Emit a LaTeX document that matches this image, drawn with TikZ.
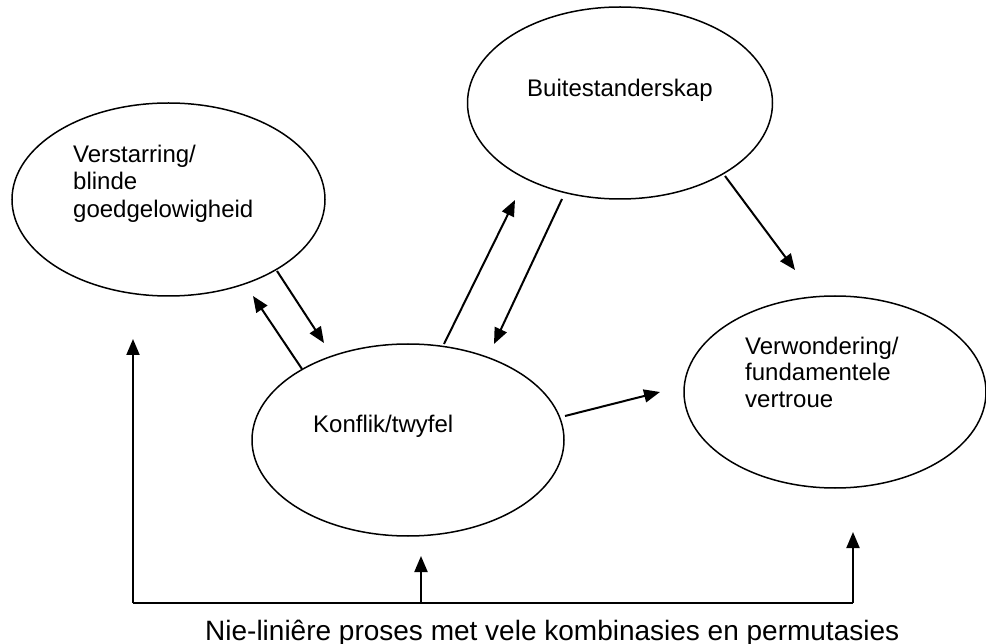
\documentclass[tikz,border=0pt]{standalone}
\usepackage{fontspec}
\setmainfont{Liberation Sans}
\usetikzlibrary{shapes.geometric,arrows.meta}
\begin{document}
\begin{tikzpicture}[x=1pt,y=-1pt,
  bubble/.style={draw,ellipse,line width=1.5pt,inner sep=0pt,minimum width=310pt,minimum height=192pt},
  lbl/.style={anchor=base west,align=left,inner sep=0pt,font=\fontsize{24}{27.6}\selectfont},
  arr/.style={line width=2pt,-{Triangle[length=16pt,width=13pt]}},
  ln/.style={line width=2pt}]
\useasboundingbox (0,0) rectangle (986,644);
\node[bubble,minimum width=313pt,minimum height=193pt] (vs) at (168.5,199.5) {};
\node[bubble,minimum width=305pt,minimum height=192pt] (bs) at (620,103) {};
\node[bubble,minimum width=312pt,minimum height=192pt] (kt) at (408,440) {};
\node[bubble,minimum width=302pt,minimum height=192pt] (vw) at (835,392) {};
\node[lbl] (tvs) at (73,217.5) {Verstarring/\\blinde\\goedgelowigheid};
\node[lbl] (tbs) at (527,97) {Buitestanderskap};
\node[lbl] (tkt) at (313,432) {Konflik/twyfel};
\node[lbl,font=\fontsize{24}{27}\selectfont] (tvw) at (745,408) {Verwondering/\\fundamentele\\vertroue};
\node[anchor=base west,inner sep=0pt,font=\fontsize{28}{32}\selectfont] (bot) at (205,640) {Nie-liniêre proses met vele kombinasies en permutasies};
% connector end points
\coordinate (vsA) at (277,271);  \coordinate (ktA) at (324,343);
\coordinate (ktB) at (302,369);  \coordinate (vsB) at (253,296);
\coordinate (ktC) at (444,344);  \coordinate (bsC) at (515,200);
\coordinate (bsD) at (562,199);  \coordinate (ktD) at (494,344);
\coordinate (bsE) at (725,176);  \coordinate (vwE) at (795,270);
\coordinate (ktF) at (565,416);  \coordinate (vwF) at (660,392);
\coordinate (bl) at (133,603);   \coordinate (bm) at (421,603);  \coordinate (br) at (853,603);
\coordinate (vsG) at (133,339);  \coordinate (ktG) at (421,556); \coordinate (vwG) at (853,532);
\draw[arr] (vsA) -- (ktA);
\draw[arr] (ktB) -- (vsB);
\draw[arr] (ktC) -- (bsC);
\draw[arr] (bsD) -- (ktD);
\draw[arr] (bsE) -- (vwE);
\draw[arr] (ktF) -- (vwF);
\draw[ln] (bl) -- (br);
\draw[arr] (bl) -- (vsG);
\draw[arr] (bm) -- (ktG);
\draw[arr] (br) -- (vwG);
\end{tikzpicture}
\end{document}
